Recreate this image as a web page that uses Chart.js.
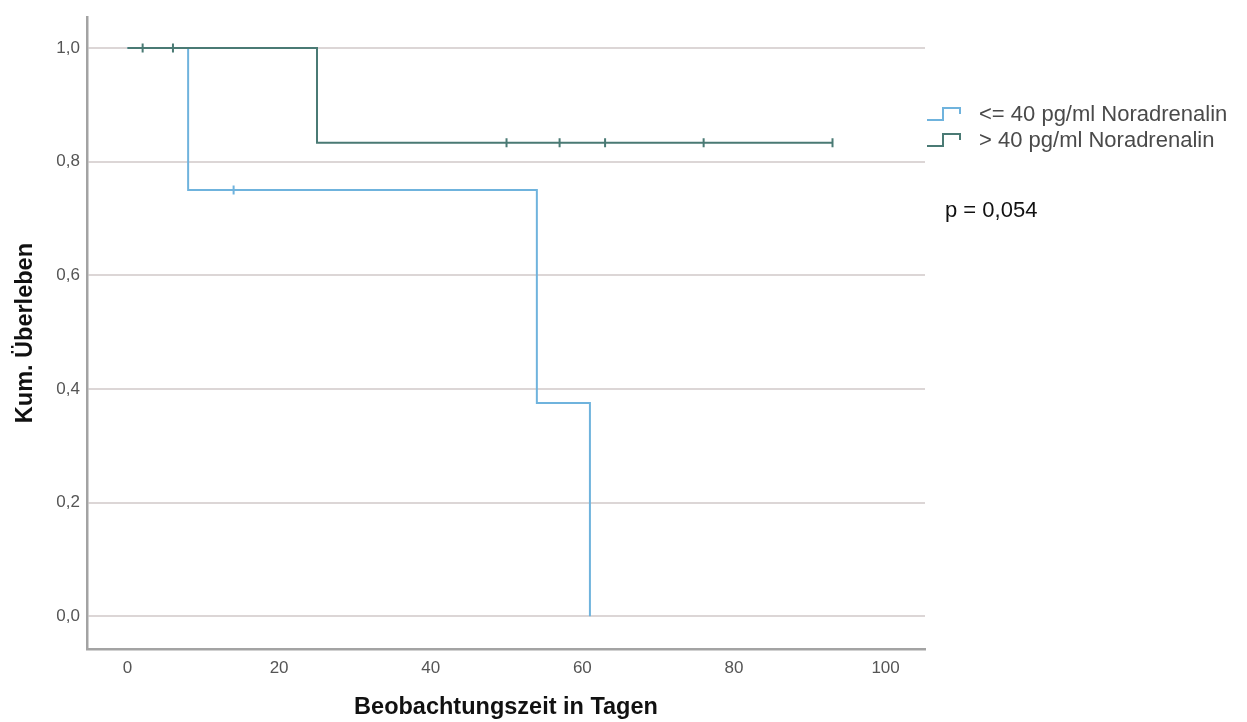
<!DOCTYPE html>
<html lang="de">
<head>
<meta charset="utf-8">
<title>Kaplan-Meier: Noradrenalin</title>
<script src="https://cdn.jsdelivr.net/npm/chart.js@4/dist/chart.umd.min.js"></script>
<style>
  html, body { margin: 0; padding: 0; background: #fff; }
  #wrap { position: relative; width: 1247px; height: 722px; }
  #km { position: absolute; left: 0; top: 0; }
  .legend-row { position: absolute; left: 927px; height: 22px; line-height: 22px;
    font-family: "Liberation Sans", Arial, sans-serif; font-size: 22px; color: #4a4a4a; white-space: nowrap; }
  .legend-row svg { position: absolute; left: 0; top: 2px; }
  .legend-row span { position: absolute; left: 52px; top: 0; }
  #pval { position: absolute; left: 945px; top: 199px; line-height: 22px;
    font-family: "Liberation Sans", Arial, sans-serif; font-size: 22px; color: #111; white-space: nowrap; }
</style>
</head>
<body>
<div id="wrap">
  <canvas id="km" width="1247" height="722"></canvas>
  <div class="legend-row" style="top:103px">
    <svg width="40" height="20"><path d="M0 15 H16 V3 H33 V9" fill="none" stroke="#6fb3dd" stroke-width="2"/></svg>
    <span>&lt;= 40 pg/ml Noradrenalin</span>
  </div>
  <div class="legend-row" style="top:129px">
    <svg width="40" height="20"><path d="M0 15 H16 V3 H33 V9" fill="none" stroke="#4a7a74" stroke-width="2"/></svg>
    <span>&gt; 40 pg/ml Noradrenalin</span>
  </div>
  <div id="pval">p = 0,054</div>
</div>
<script>
// Gruppe <= 40 pg/ml: Ereigniszeitpunkte (Tage) und Überlebensrate danach
const lowTimes = [0, 8, 54, 61];
const lowSurvival = [1.0, 0.75, 0.375, 0.0];
const lowCensorTimes = [14];
const lowCensorSurvival = [0.75];

// Gruppe > 40 pg/ml
const highTimes = [0, 25, 93];
const highSurvival = [1.0, 0.8333, 0.8333];
const highCensorTimes = [2, 6, 50, 57, 63, 76, 93];
const highCensorSurvival = [1.0, 1.0, 0.8333, 0.8333, 0.8333, 0.8333, 0.8333];

const xTickValues = [0, 20, 40, 60, 80, 100];
const yTickValues = [0, 0.2, 0.4, 0.6, 0.8, 1.0];

const groupLabels = ['<= 40 pg/ml Noradrenalin', '> 40 pg/ml Noradrenalin'];
const lowColor = '#6fb3dd';
const highColor = '#4a7a74';

const toPoints = (xs, ys) => xs.map((x, i) => ({ x: x, y: ys[i] }));
const fmt = v => v.toFixed(1).replace('.', ',');

// Treppenfunktion: waagerecht bis zum nächsten Ereignis, dann senkrecht fallen
const stepLine = (label, xs, ys, color) => ({
  type: 'line', label: label, data: toPoints(xs, ys),
  borderColor: color, borderWidth: 2, stepped: 'before',
  pointRadius: 0, fill: false, tension: 0
});
const censorMarks = (label, xs, ys, color) => ({
  type: 'scatter', label: label, data: toPoints(xs, ys),
  pointStyle: 'line', rotation: 90, radius: 4.5,
  borderColor: color, backgroundColor: color, borderWidth: 2
});

const titleFont = { family: 'Liberation Sans', size: 23.5, weight: 'bold' };

new Chart(document.getElementById('km'), {
  data: {
    datasets: [
      stepLine(groupLabels[1], highTimes, highSurvival, highColor),
      censorMarks(groupLabels[1] + ' zensiert', highCensorTimes, highCensorSurvival, highColor),
      stepLine(groupLabels[0], lowTimes, lowSurvival, lowColor),
      censorMarks(groupLabels[0] + ' zensiert', lowCensorTimes, lowCensorSurvival, lowColor)
    ]
  },
  options: {
    responsive: false,
    animation: false,
    layout: { padding: { left: 0, top: 12, right: 322, bottom: 0 } },
    plugins: { legend: { display: false }, tooltip: { enabled: false } },
    scales: {
      x: {
        type: 'linear', min: -5.34, max: 105.2,
        afterBuildTicks: s => { s.ticks = xTickValues.map(v => ({ value: v })); },
        afterFit: s => { s.height = 73; },
        grid: { display: false, drawTicks: false },
        border: { display: true, color: '#a3a3a3', width: 2.5 },
        ticks: { padding: 9, color: '#555', font: { family: 'Liberation Sans', size: 17 }, maxRotation: 0 },
        title: { display: true, text: 'Beobachtungszeit in Tagen', color: '#111',
          font: titleFont, padding: { top: 0, bottom: 0 } }
      },
      y: {
        type: 'linear', min: -0.0576, max: 1.054,
        afterBuildTicks: s => { s.ticks = yTickValues.map(v => ({ value: v })); },
        afterFit: s => { s.width = 87; },
        grid: { display: true, drawTicks: false, color: '#dcd6d6', lineWidth: 2 },
        border: { display: true, color: '#a3a3a3', width: 2.5 },
        ticks: { padding: 7, color: '#555', font: { family: 'Liberation Sans', size: 17 },
          callback: v => fmt(v) },
        title: { display: true, text: 'Kum. Überleben', color: '#111',
          font: titleFont, padding: { top: 11, bottom: 0 } }
      }
    }
  }
});
</script>
</body>
</html>
